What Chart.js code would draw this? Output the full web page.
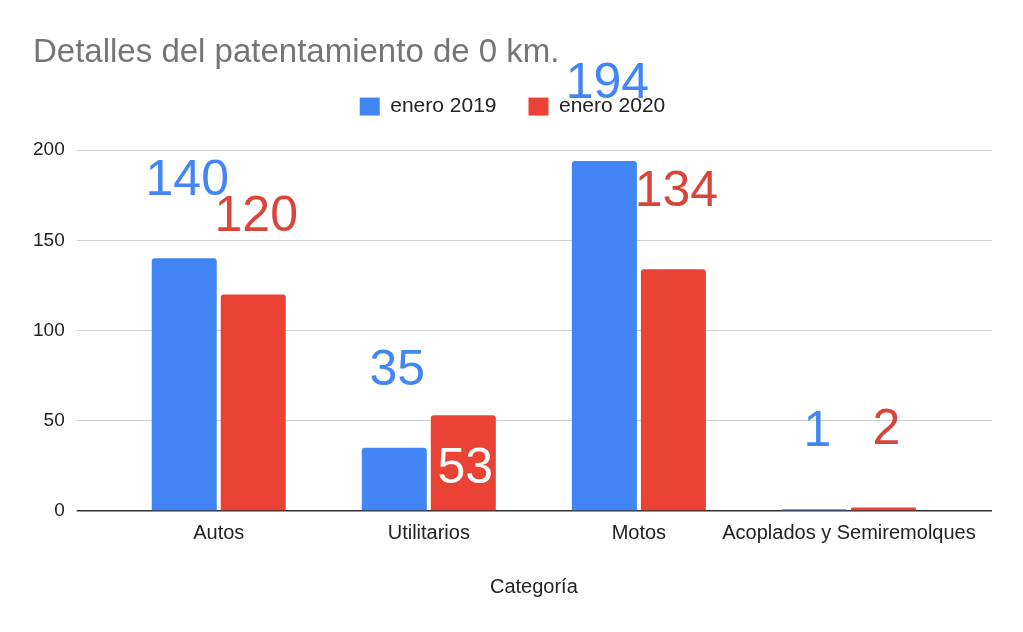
<!DOCTYPE html>
<html>
<head>
<meta charset="utf-8">
<script src="https://cdn.jsdelivr.net/npm/chart.js@4.4.1/dist/chart.umd.min.js"></script>
<style>
    body { margin: 0; background: #fff; }
    #wrap { width: 1023px; height: 632px; }
</style>
</head>
<body>
<div id="wrap"><canvas id="patentChart"></canvas></div>
<script>
const categories = ['Autos', 'Utilitarios', 'Motos', 'Acoplados y Semiremolques'];
const enero2019 = [140, 35, 194, 1];
const enero2020 = [120, 53, 134, 2];
const yTicks = [0, 50, 100, 150, 200];
// label drawn inside the bar (Google puts the 53 inside)
const insideLabel = [[false, false, false, false], [false, true, false, false]];

const fontFamily = "'Liberation Sans', Arial, sans-serif";
const labelColors = ['#4285f4', '#d9453b'];

function gridColor(ctx) {
    return ctx.tick && ctx.tick.value === 0 ? '#333333' : '#d0d0d0';
}
function gridWidth(ctx) {
    return ctx.tick && ctx.tick.value === 0 ? 1.5 : 1;
}

const valueLabels = {
    id: 'valueLabels',
    afterDatasetsDraw(chart) {
        const ctx = chart.ctx;
        ctx.save();
        ctx.font = '50px ' + fontFamily;
        ctx.textAlign = 'center';
        ctx.textBaseline = 'alphabetic';
        chart.data.datasets.forEach((ds, di) => {
            const meta = chart.getDatasetMeta(di);
            meta.data.forEach((bar, i) => {
                const val = ds.data[i];
                if (insideLabel[di][i]) {
                    ctx.fillStyle = '#ffffff';
                    ctx.fillText(val, bar.x + 2, bar.y + 68);
                } else {
                    ctx.fillStyle = labelColors[di];
                    ctx.fillText(val, bar.x + 3, bar.y - 63);
                }
            });
        });
        ctx.restore();
    }
};

const ctx = document.getElementById('patentChart').getContext('2d');
new Chart(ctx, {
    type: 'bar',
    data: {
        labels: categories,
        datasets: [{
            label: 'enero 2019',
            data: enero2019,
            xAxisID: 'x',
            backgroundColor: '#4285f4',
            borderRadius: 3,
            categoryPercentage: 0.657,
            barPercentage: 0.942
        }, {
            label: 'enero 2020',
            data: enero2020,
            xAxisID: 'x',
            backgroundColor: '#ea4335',
            borderRadius: 3,
            categoryPercentage: 0.657,
            barPercentage: 0.942
        }]
    },
    options: {
        responsive: true,
        maintainAspectRatio: false,
        animation: false,
        layout: {
            padding: { left: 33, right: 31, top: 0, bottom: 33 }
        },
        plugins: {
            title: {
                display: true,
                text: 'Detalles del patentamiento de 0 km.',
                align: 'start',
                color: '#757575',
                font: { family: fontFamily, size: 33, weight: 'normal', lineHeight: 0.7 },
                padding: { top: 41, bottom: 0 }
            },
            legend: {
                display: true,
                position: 'top',
                align: 'center',
                labels: {
                    color: '#222',
                    boxWidth: 20,
                    boxHeight: 18,
                    padding: 32,
                    font: { family: fontFamily, size: 21 }
                }
            },
            tooltip: { enabled: false }
        },
        scales: {
            x: {
                grid: { display: false, drawTicks: false },
                border: { display: false },
                ticks: {
                    color: '#222',
                    padding: 10,
                    autoSkip: false,
                    maxRotation: 0,
                    minRotation: 0,
                    font: { family: fontFamily, size: 20 }
                },
                title: {
                    display: true,
                    text: 'Categoría',
                    color: '#222',
                    padding: { top: 20, bottom: 0 },
                    font: { family: fontFamily, size: 20 }
                }
            },
            // empty top axis, only used to leave room under the legend
            xTop: {
                position: 'top',
                grid: { display: true, drawOnChartArea: false, drawTicks: true, tickLength: 23, color: 'rgba(0,0,0,0)' },
                border: { display: false },
                ticks: { display: false }
            },
            y: {
                min: yTicks[0],
                max: yTicks[yTicks.length - 1],
                afterBuildTicks: axis => { axis.ticks = yTicks.map(v => ({ value: v })); },
                afterFit: axis => { axis.width -= 12; },
                grid: { color: gridColor, lineWidth: gridWidth, drawTicks: true, tickLength: 37 },
                border: { display: false },
                ticks: {
                    color: '#222',
                    padding: 12,
                    font: { family: fontFamily, size: 19 }
                }
            },
            yRight: {
                position: 'right',
                min: yTicks[0],
                max: yTicks[yTicks.length - 1],
                afterBuildTicks: axis => { axis.ticks = yTicks.map(v => ({ value: v })); },
                grid: { color: gridColor, lineWidth: gridWidth, drawOnChartArea: false, drawTicks: true, tickLength: 38 },
                border: { display: false },
                ticks: { display: false }
            }
        }
    },
    plugins: [valueLabels]
});
</script>
</body>
</html>
